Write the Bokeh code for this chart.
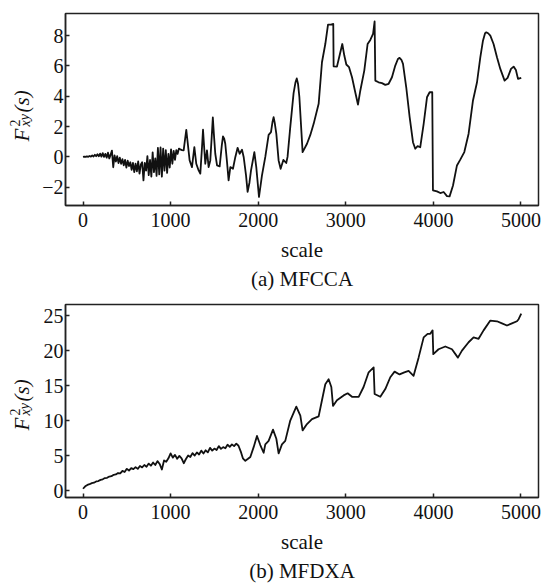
from bokeh.plotting import figure
from bokeh.layouts import column, row
from bokeh.models import FixedTicker, Title, Range1d
from bokeh.core.properties import value
from bokeh.embed import file_html
from bokeh.resources import INLINE

# ---------------- data ----------------
x_ticks = [0, 1000, 2000, 3000, 4000, 5000]
a_y_ticks = [-2, 0, 2, 4, 6, 8]
b_y_ticks = [0, 5, 10, 15, 20, 25]
x_label = "scale"
a_caption = "(a) MFCCA"
b_caption = "(b) MFDXA"
y_label_parts = ["F", "2", "xy", "(s)"]

# (a) MFCCA
a_scale = [0, 15, 30, 45, 60, 75, 90, 105, 120, 135, 150, 165, 180, 195, 210, 225,
           240, 255, 270, 285, 300, 315, 330, 345, 360, 375, 390, 405, 420, 435, 450,
           465, 480, 495, 510, 525, 540, 555, 570, 585, 600, 615, 630, 645, 660, 675,
           690, 705, 720, 735, 750, 765, 780, 795, 810, 825, 840, 855, 870, 885, 900,
           915, 930, 945, 960, 975, 990, 1005, 1020, 1035, 1050, 1065, 1080, 1095, 1110,
           1130, 1149, 1166, 1179, 1192, 1217, 1244, 1271, 1293, 1320, 1339, 1358, 1370,
           1382, 1396, 1415, 1434, 1453, 1470, 1482, 1494, 1510, 1530, 1560, 1585, 1598,
           1612, 1624, 1644, 1662, 1682, 1712, 1739, 1765, 1788, 1815, 1834, 1861, 1879,
           1900, 1918, 1956, 1978, 2009, 2043, 2081, 2119, 2146, 2163, 2176, 2190, 2207,
           2233, 2256, 2287, 2320, 2335, 2366, 2404, 2425, 2440, 2455, 2470, 2507, 2557,
           2595, 2633, 2690, 2728, 2766, 2797, 2831, 2857, 2861, 2899, 2929, 2960, 2983,
           3006, 3037, 3071, 3108, 3139, 3166, 3211, 3249, 3280, 3311, 3329, 3337, 3374,
           3413, 3451, 3489, 3527, 3565, 3595, 3614, 3635, 3653, 3690, 3729, 3767, 3793,
           3820, 3850, 3889, 3927, 3957, 3987, 3995, 4041, 4079, 4117, 4155, 4185, 4224,
           4269, 4307, 4353, 4402, 4452, 4498, 4536, 4566, 4590, 4604, 4625, 4650, 4687,
           4726, 4764, 4813, 4847, 4886, 4916, 4942, 4966, 5003]
a_value = [0.00, 0.02, 0.00, 0.04, 0.01, 0.06, 0.02, 0.10, 0.03, 0.14, 0.05, 0.18, 0.04,
           0.22, 0.02, 0.25, 0.00, 0.20, -0.05, 0.28, -0.10, 0.15, 0.42, -0.68, 0.10, -0.30,
           0.05, -0.40, -0.05, -0.45, -0.15, -0.55, -0.20, -0.70, -0.25, -0.60, -0.35, -0.85,
           -0.40, -1.00, -0.45, -0.95, -0.30, -1.10, -0.50, -0.35, -1.55, -0.40, -0.90, 0.05,
           -1.20, -0.20, -1.30, 0.30, -1.00, -0.10, -1.25, 0.60, -1.15, 0.62, -1.30, 0.55,
           -0.90, 0.45, -1.05, 0.20, -0.70, 0.50, -0.45, 0.40, -0.20, 0.45, 0.20, 0.55, 0.50,
           0.45, 0.43, 1.20, 1.78, 1.10, -0.23, -0.67, 0.64, -0.45, -0.89, -1.10, 0.60, 1.79,
           0.70, -0.45, 0.43, -0.67, -0.23, 1.40, 2.60, 1.50, 0.21, -0.56, -0.62, 0.80, 1.35,
           1.20, 0.87, -0.34, -1.55, -0.67, -0.78, 0.00, 0.60, 0.21, 0.47, 0.00, -1.22, -2.30,
           -1.70, -0.89, 0.31, -0.67, -2.64, -1.22, 0.00, 1.45, 1.63, 2.30, 2.62, 2.20, 1.52,
           -0.23, -0.78, -0.20, -0.40, 0.00, 1.96, 4.20, 4.90, 5.17, 4.80, 3.95, 0.32, 0.87,
           1.45, 2.18, 3.50, 6.24, 7.44, 8.72, 8.72, 8.76, 5.97, 5.95, 6.68, 7.44, 6.68,
           6.09, 5.91, 5.25, 4.26, 3.45, 4.38, 5.69, 7.44, 7.71, 8.10, 8.93, 5.03, 4.92,
           4.86, 4.75, 4.82, 5.25, 6.02, 6.45, 6.53, 6.40, 6.13, 4.59, 2.62, 0.97, 0.54,
           0.71, 0.64, 2.18, 3.93, 4.26, 4.26, -2.20, -2.27, -2.38, -2.31, -2.58, -2.60, -1.88,
           -0.56, -0.18, 0.32, 1.53, 3.72, 4.92, 6.57, 7.66, 8.15, 8.21, 8.15, 7.99, 7.44,
           6.57, 5.80, 5.03, 5.21, 5.80, 5.95, 5.73, 5.14, 5.21]

# (b) MFDXA
b_scale = [0, 25, 50, 75, 100, 125, 150, 175, 200, 225, 250, 275, 300, 325, 350, 375, 400,
           425, 450, 475, 500, 525, 550, 575, 600, 625, 650, 675, 700, 725, 750, 775, 800,
           825, 850, 875, 900, 925, 950, 975, 1000, 1025, 1050, 1075, 1100, 1125, 1150, 1175,
           1200, 1225, 1250, 1275, 1300, 1325, 1350, 1375, 1400, 1425, 1450, 1475, 1500, 1525,
           1550, 1575, 1600, 1625, 1650, 1675, 1700, 1725, 1750, 1775,
           1800, 1825, 1853, 1880, 1910, 1948, 1986, 2024, 2062, 2081, 2119, 2169, 2207, 2233,
           2271, 2309, 2366, 2435, 2481, 2507, 2557, 2614, 2690, 2728, 2766, 2804, 2835, 2854,
           2899, 2975, 3021, 3071, 3147, 3203, 3261, 3318, 3329, 3394, 3451, 3508, 3557, 3614,
           3668, 3717, 3774, 3831, 3889, 3934, 3964, 3991, 3999, 4059, 4136, 4212, 4280, 4326,
           4402, 4459, 4516, 4573, 4650, 4726, 4783, 4840, 4897, 4954, 4973, 5003]
b_value = [0.25, 0.60, 0.80, 0.90, 1.05, 1.12, 1.30, 1.35, 1.52, 1.60, 1.78, 1.82, 2.00, 2.05,
           2.25, 2.30, 2.50, 2.45, 2.80, 2.65, 3.10, 2.85, 3.20, 3.05, 3.35, 3.10, 3.50, 3.30,
           3.65, 3.40, 3.85, 3.55, 4.00, 3.65, 4.20, 3.80, 3.00, 4.30, 4.10, 4.60, 5.30, 4.70,
           5.10, 4.55, 4.95, 4.60, 3.90, 4.50, 5.00, 4.80, 5.35, 5.00, 5.45, 5.15, 5.70, 5.30,
           5.75, 5.45, 6.10, 5.70, 6.00, 5.80, 6.35, 5.95, 6.20, 6.05, 6.55, 6.25, 6.60, 6.35,
           6.70, 6.40,
           5.60, 4.60, 4.25, 4.50, 4.80, 6.20, 7.80, 6.50, 5.40, 6.60, 7.10, 8.70, 7.40, 5.30,
           6.60, 7.10, 10.0, 12.0, 10.7, 8.60, 9.50, 10.2, 10.6, 12.9, 15.2, 15.9, 14.8, 12.1,
           12.9, 13.6, 13.9, 13.4, 13.4, 14.8, 16.9, 17.6, 13.8, 13.4, 14.5, 16.2, 17.0, 16.6,
           16.9, 17.1, 16.4, 19.0, 21.9, 22.4, 22.4, 22.9, 19.5, 20.2, 20.6, 20.2, 19.0, 20.0,
           21.2, 21.9, 21.7, 22.9, 24.3, 24.2, 23.9, 23.6, 23.9, 24.2, 24.5, 25.3]

FONT = "Liberation Serif"
INK = "#111111"
LABEL_W = 36


def make_ylabel(height, border_top, border_bottom, lift):
    frame_h = height - border_top - border_bottom
    q = figure(width=LABEL_W, height=height, output_backend="svg", toolbar_location=None,
               x_range=Range1d(0, LABEL_W), y_range=Range1d(0, frame_h),
               x_axis_type=None, y_axis_type=None, title=None,
               min_border_left=0, min_border_right=0,
               min_border_top=border_top, min_border_bottom=border_bottom,
               outline_line_color=None, background_fill_color="white",
               border_fill_color="white")
    q.grid.visible = False
    F, two, xy, s = y_label_parts
    common = dict(angle=1.5708, text_font=value(FONT), text_color=INK,
                  text_align="left", text_baseline="alphabetic")
    q.text(x=[21.5], y=[lift], text=[F], text_font_size="21px",
           text_font_style="italic", **common)
    q.text(x=[14.5], y=[lift + 15], text=[two], text_font_size="14px",
           text_font_style="normal", **common)
    q.text(x=[24.5], y=[lift + 15], text=[xy], text_font_size="14px",
           text_font_style="italic", **common)
    q.text(x=[21.5], y=[lift + 29], text=[s], text_font_size="21px",
           text_font_style="italic", **common)
    return q


def make_panel(xs, ys, y_ticks, y_range, caption, height, border_top, border_bottom, overrides):
    p = figure(width=542 - LABEL_W, height=height, output_backend="svg", toolbar_location=None,
               x_range=Range1d(-200, 5200), y_range=Range1d(*y_range),
               min_border_left=65 - LABEL_W, min_border_right=4,
               min_border_top=border_top, min_border_bottom=border_bottom,
               background_fill_color="white", border_fill_color="white")
    p.line(xs, ys, line_color=INK, line_width=1.8, line_join="round")
    p.grid.visible = False
    p.outline_line_color = "#222222"
    p.outline_line_width = 1.5
    for ax in (p.xaxis[0], p.yaxis[0]):
        ax.axis_line_color = "#222222"
        ax.axis_line_width = 1.5
        ax.major_tick_in = 4
        ax.major_tick_out = 0
        ax.major_tick_line_width = 1.5
        ax.major_tick_line_color = "#222222"
        ax.minor_tick_line_color = None
        ax.major_label_text_font = FONT
        ax.major_label_text_font_size = "20px"
        ax.major_label_text_color = INK
    p.xaxis.ticker = FixedTicker(ticks=x_ticks)
    p.yaxis.ticker = FixedTicker(ticks=y_ticks)
    p.yaxis.major_label_overrides = overrides
    p.xaxis.major_label_standoff = 7
    p.yaxis.major_label_standoff = 2
    p.xaxis.axis_label = x_label
    p.xaxis.axis_label_text_font = FONT
    p.xaxis.axis_label_text_font_style = "normal"
    p.xaxis.axis_label_text_font_size = "21px"
    p.xaxis.axis_label_text_color = INK
    p.xaxis.axis_label_standoff = 8
    t = Title(text=caption, align="center", text_font=FONT, text_font_size="21px",
              text_font_style="normal", text_color=INK, standoff=0)
    p.add_layout(t, "below")
    return p


A_H, A_T, A_B = 296, 13, 91
B_H, B_T, B_B = 289, 8, 88

pa = make_panel(a_scale, a_value, a_y_ticks, (-3.2, 9.45), a_caption, A_H, A_T, A_B,
                {-2: "\u22122"})
pb = make_panel(b_scale, b_value, b_y_ticks, (-1.0, 26.6), b_caption, B_H, B_T, B_B, {})

layout = column(row(make_ylabel(A_H, A_T, A_B, 64), pa, spacing=0),
                row(make_ylabel(B_H, B_T, B_B, 67), pb, spacing=0), spacing=0)
open("out.html", "w").write(file_html(layout, INLINE))
